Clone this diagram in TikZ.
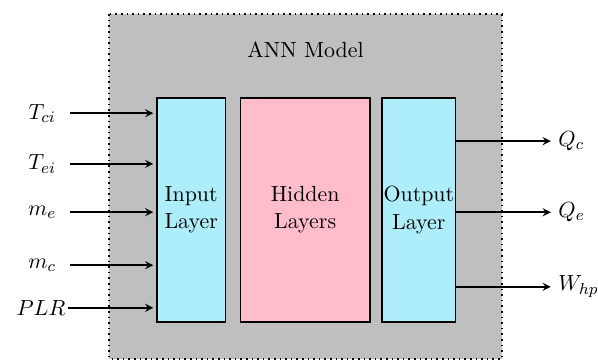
\documentclass[tikz,border=0pt,11pt]{standalone}
\usetikzlibrary{positioning}
\definecolor{modelgray}{HTML}{BFBFBF}
\definecolor{layerblue}{HTML}{ADEEFA}
\definecolor{layerpink}{HTML}{FFBCCB}
\begin{document}
\begin{tikzpicture}[
    model/.style={draw, thick, dotted, fill=modelgray},
    layer/.style={rectangle, draw, thick, minimum height=3.94cm, align=center, inner sep=0.5pt},
    arrow/.style={->, thick, >=stealth},
    inlabel/.style={minimum width=0.95cm, inner sep=0pt},
    outlabel/.style={anchor=west}
]
    \useasboundingbox (0,0) rectangle (10.51,-6.34);

    % Model frame
    \draw[model] (1.92,-0.25) rectangle (8.82,-6.31);
    \node (title) at (5.37,-0.87) {ANN Model};

    % Layers
    \node[layer, fill=layerblue, minimum width=1.2cm] (input) at (3.36,-3.69) {Input\\Layer};
    \node[layer, fill=layerpink, minimum width=2.27cm, right=0.24cm of input] (hidden) {Hidden\\Layers};
    \node[layer, fill=layerblue, minimum width=1.29cm, right=0.19cm of hidden] (output) {Output\\Layer};

    % Inputs
    \node[inlabel] (tci) at (0.74,-1.99) {$T_{ci}$};
    \node[inlabel] (tei) at (0.74,-2.88) {$T_{ei}$};
    \node[inlabel] (me) at (0.74,-3.73) {$m_e$};
    \node[inlabel] (mc) at (0.74,-4.66) {$m_c$};
    \node[inlabel] (plr) at (0.72,-5.41) {$PLR$};

    \draw[arrow, shorten >=1.5pt] (tci) -- (tci -| input.west);
    \draw[arrow, shorten >=1.5pt] (tei) -- (tei -| input.west);
    \draw[arrow, shorten >=1.5pt] (me) -- (me -| input.west);
    \draw[arrow, shorten >=1.5pt] (mc) -- (mc -| input.west);
    \draw[arrow, shorten >=1.5pt] (plr) -- (plr -| input.west);

    % Outputs
    \node[outlabel] (qc) at (9.68,-2.48) {$Q_c$};
    \node[outlabel] (qe) at (9.68,-3.73) {$Q_e$};
    \node[outlabel] (whp) at (9.68,-5.04) {$W_{hp}$};

    \draw[arrow] (output.east |- qc) -- (qc);
    \draw[arrow] (output.east |- qe) -- (qe);
    \draw[arrow] (output.east |- whp) -- (whp);
\end{tikzpicture}
\end{document}
